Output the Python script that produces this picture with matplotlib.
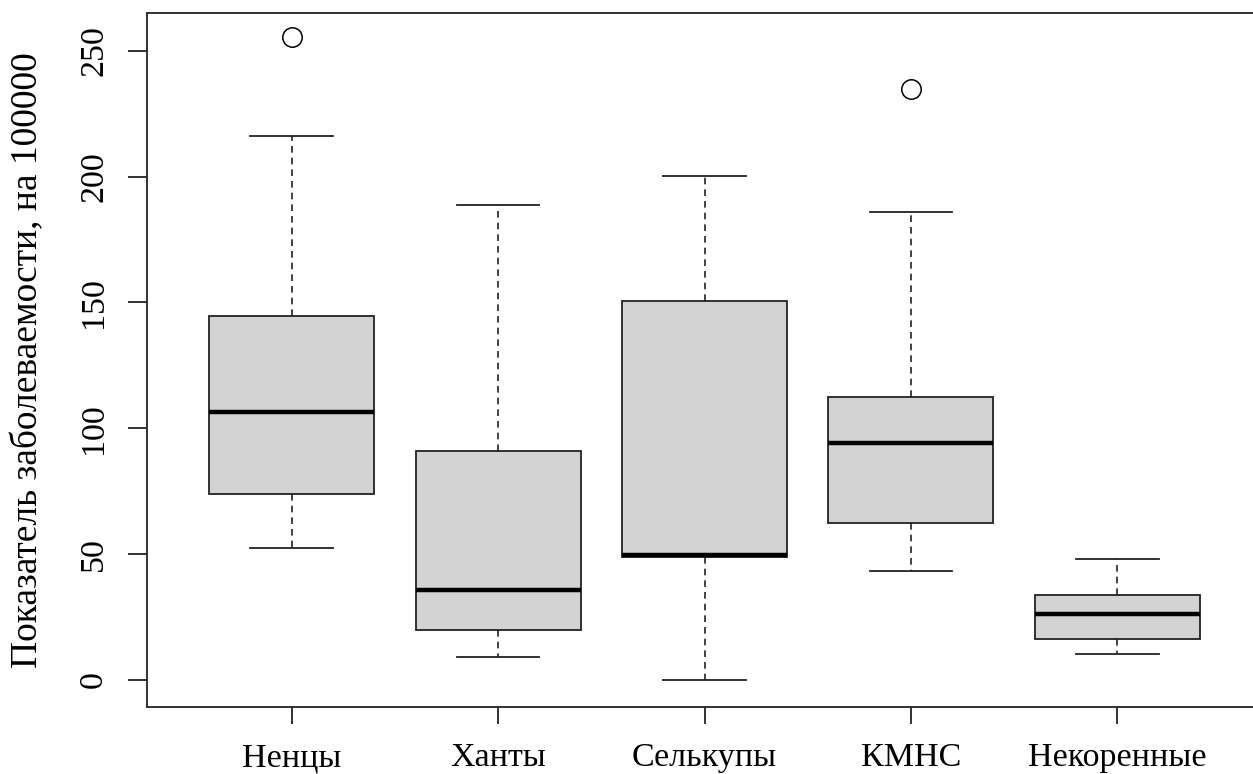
import matplotlib.pyplot as plt

# данные
groups = ['Ненцы', 'Ханты', 'Селькупы', 'КМНС', 'Некоренные']
whislo = [52.5, 9.2, 0.0, 43.5, 10.2]
q1 = [73.8, 19.8, 48.8, 62.3, 16.3]
med = [106.3, 35.7, 49.6, 94.0, 26.2]
q3 = [144.6, 90.8, 150.4, 112.6, 33.6]
whishi = [216.0, 188.6, 200.4, 185.8, 48.1]
fliers = [[255.3], [], [], [235.0], []]

plt.rcParams['font.family'] = ['Liberation Serif', 'DejaVu Serif']

fig = plt.figure(figsize=(12.53, 7.74), dpi=100)
ax = fig.add_axes([147.2 / 1253, 1 - 706.7 / 774, 1114.6 / 1253, 693.7 / 774])

stats = []
for i in range(len(groups)):
    stats.append(dict(label=groups[i], whislo=whislo[i], q1=q1[i], med=med[i],
                      q3=q3[i], whishi=whishi[i], fliers=fliers[i]))

pos = list(range(1, len(groups) + 1))
ax.bxp(stats, positions=pos, widths=0.8, patch_artist=True, showfliers=True,
       boxprops=dict(facecolor='#d3d3d3', edgecolor='#222222', linewidth=1.3),
       medianprops=dict(color='black', linewidth=3.2, solid_capstyle='butt'),
       whiskerprops=dict(color='#222222', linewidth=1.2, linestyle=(0, (4, 3))),
       capprops=dict(color='#222222', linewidth=1.3),
       capwidths=0.4,
       flierprops=dict(marker='o', markersize=14, markerfacecolor='none',
                       markeredgecolor='black', markeredgewidth=1.1))

ax.set_xlim(0.3, 5.7)
ax.set_ylim(-10.6, 265)
ax.set_yticks([0, 50, 100, 150, 200, 250])
ax.set_xticks(pos)
ax.set_xticklabels(groups)

for s in ax.spines.values():
    s.set_linewidth(1.3)
    s.set_color('#222222')

ax.tick_params(axis='both', labelsize=24.5, width=1.3, color='#222222')
ax.tick_params(axis='y', length=13.5, pad=14)
ax.tick_params(axis='x', length=12, pad=14)
for t in ax.get_yticklabels():
    t.set_rotation(90)
    t.set_va('center')

ax.set_ylabel('Показатель заболеваемости, на 100000', fontsize=27, labelpad=24)

fig.savefig('out.png', dpi=100)
